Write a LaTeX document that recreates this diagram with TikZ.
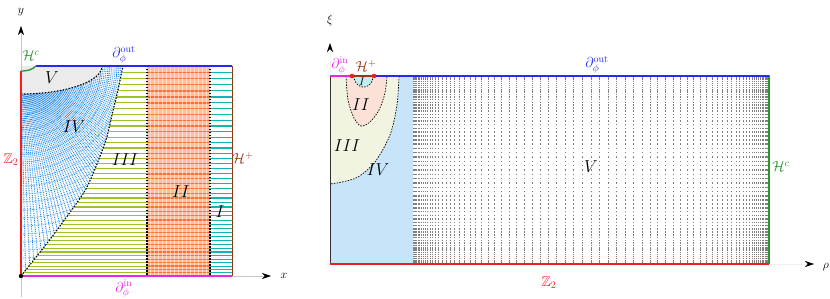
\documentclass[tikz,border=0pt]{standalone}
\usepackage{amssymb}
\usetikzlibrary{arrows.meta}
\definecolor{cIn}{RGB}{230,40,230}
\definecolor{cOut}{RGB}{40,40,240}
\definecolor{cZ}{RGB}{240,30,30}
\definecolor{cHp}{RGB}{150,55,25}
\definecolor{cHc}{RGB}{40,150,40}
\definecolor{cIV}{RGB}{30,135,235}
\definecolor{cIII}{RGB}{155,195,40}
\definecolor{cII}{RGB}{255,110,45}
\definecolor{cIIbg}{RGB}{255,190,160}
\definecolor{cI}{RGB}{20,180,180}
\definecolor{fIV}{RGB}{200,228,248}
\definecolor{fIII}{RGB}{240,244,225}
\definecolor{fII}{RGB}{252,226,214}
\definecolor{fI}{RGB}{195,238,238}
\begin{document}
\begin{tikzpicture}[x=1pt,y=-1pt,
  edgelab/.style={font=\fontsize{14}{16}\selectfont, inner sep=0pt},
  reglab/.style={font=\fontsize{19}{21}\selectfont, inner sep=0pt},
  reglabr/.style={font=\fontsize{17}{19}\selectfont, inner sep=0pt},
  smallreg/.style={font=\fontsize{11}{13}\selectfont, inner sep=0pt},
  axlab/.style={font=\fontsize{12}{14}\selectfont, inner sep=0pt},
  bnd/.style={black, dash pattern=on 1.5pt off 1.5pt, line width=1.1pt},
  bndthin/.style={black, dash pattern=on 1.5pt off 1.3pt, line width=0.7pt},
  axline/.style={gray!45, line width=0.6pt, -{Stealth[length=9pt,width=6pt,color=black]}},
  raydot/.style={cIV, line width=0.9pt, dash pattern=on 0.9pt off 0.9pt},
  arcdot/.style={cIV!80, line width=0.7pt, dash pattern=on 0.8pt off 1pt},
  dotv/.style={black!50, line width=0.75pt},
  border/.style={line width=1.3pt},
]
\useasboundingbox (0,0) rectangle (830,299);

% ================= LEFT DIAGRAM =================
\coordinate (LO) at (21,276);
\coordinate (LTopY) at (21,26);
\coordinate (LRightX) at (271,276);
\coordinate (LBelow) at (21,297);

% region V fill
\fill[gray!16] (21,66) -- (21,94) -- plot[domain=90:0,samples=40] ({21+81*cos(\x)},{66+28*sin(\x)}) -- cycle;

% region II fill
\fill[cIIbg] (147,66) rectangle (210,276);

% region IV mesh
\begin{scope}
  \clip (21,94) -- plot[smooth] coordinates {(21,276) (48,242) (68,215) (87,187) (105,143) (112,115) (118,90) (123,66)}
        -- (102,66) -- plot[domain=0:90,samples=40] ({21+81*cos(\x)},{66+28*sin(\x)}) -- cycle;
  \foreach \a in {0,1.25,...,90}
    \draw[raydot] (21,66) -- ++({320*cos(\a)},{320*sin(\a)});
  \foreach \r in {32,40,...,240}
    \draw[arcdot] plot[domain=0:90,samples=45] ({21+\r*cos(\x)},{66+\r*sin(\x)});
\end{scope}

% region III green lines
\begin{scope}
  \clip plot[smooth] coordinates {(21,276) (48,242) (68,215) (87,187) (105,143) (112,115) (118,90) (123,66)}
        -- (147,66) -- (147,276) -- cycle;
  \foreach \k in {0,...,44}{
    \pgfmathsetmacro\yy{276-210*((2/3)*(\k/44)+(1/3)*(\k/44)^2)}
    \draw[cIII, line width=1.2pt] (21,\yy) -- (147,\yy);
  }
\end{scope}

% region II and I lines
\foreach \k in {0,...,44}{
  \pgfmathsetmacro\yy{276-210*((2/3)*(\k/44)+(1/3)*(\k/44)^2)}
  \draw[cII, line width=1.3pt] (147,\yy) -- (210,\yy);
  \draw[cI, line width=1.2pt] (210,\yy) -- (232,\yy);
}
\foreach \xv in {150,154,...,208}
  \draw[white, opacity=0.45, line width=0.5pt] (\xv,66) -- (\xv,276);

% dashed boundaries
\draw[bnd] plot[smooth] coordinates {(21,276) (48,242) (68,215) (87,187) (105,143) (112,115) (118,90) (123,66)};
\draw[bnd] plot[domain=90:0,samples=40] ({21+81*cos(\x)},{66+28*sin(\x)});
\draw[bnd] (147,66) -- (147,276);
\draw[bnd] (210,66) -- (210,276);

% axes
\draw[axline] (LBelow) -- (LTopY);
\draw[axline] (LO) -- (LRightX);

% borders
\draw[border, cZ] (21,71) -- (LO);
\draw[border, cIn] (LO) -- (232,276);
\draw[border, cHp, line width=1pt] (232,276) -- (232,66);
\draw[border, cOut] (36,66) -- (232,66);
\draw[border, cHc] (21,71) .. controls (29,71) and (33,69) .. (36,66);
\fill[black] (LO) circle (2.2);

% labels
\node[axlab] (ly) at (21,12) {$y$};
\node[axlab] (lx) at (284,276) {$x$};
\node[edgelab, text=cHc] (lHc) at (31,56) {$\mathcal{H}^c$};
\node[edgelab, text=cOut] (lOut) at (124,55) {$\partial_\phi^{\mathrm{out}}$};
\node[edgelab, text=cZ] (lZ) at (11,160) {$\mathbb{Z}_2$};
\node[edgelab, text=cHp] (lHp) at (243,158) {$\mathcal{H}^+$};
\node[edgelab, text=cIn] (lIn) at (124,289) {$\partial_\phi^{\mathrm{in}}$};
\node[reglab] (lV) at (52,78) {$V$};
\node[reglab] (lIVl) at (74,127) {$IV$};
\node[reglab] (lIIIl) at (125,160) {$III$};
\node[reglab] (lIIl) at (181,192) {$II$};
\node[reglab] (lIl) at (220,212) {$I$};

% ================= RIGHT DIAGRAM =================
\coordinate (RO) at (330,264);
\coordinate (RXi) at (330,43);
\coordinate (RRho) at (814,264);

\fill[fIV] (330,76) rectangle (413,264);
\fill[fIII] (330,76) -- plot[smooth] coordinates {(399,76) (397,105) (390,135) (375,162) (358,177) (342,182) (330,184)} -- cycle;
\fill[fII] plot[smooth] coordinates {(346,76) (348,100) (354,118) (361,126) (370,122) (379,110) (385,93) (387,76)} -- cycle;
\fill[fI] plot[domain=180:0,samples=30] ({363.5+9.5*cos(\x)},{76+11*sin(\x)}) -- cycle;

\draw[bndthin] plot[smooth] coordinates {(399,76) (397,105) (390,135) (375,162) (358,177) (342,182) (330,184)};
\draw[bndthin] plot[smooth] coordinates {(346,76) (348,100) (354,118) (361,126) (370,122) (379,110) (385,93) (387,76)};
\draw[bndthin] plot[domain=180:0,samples=30] ({363.5+9.5*cos(\x)},{76+11*sin(\x)});

% region V dot grid
\foreach \i in {0,...,72}{
  \pgfmathsetmacro\xx{413+356*(\i/72-0.75*sin(5*\i)/(2*pi))}
  \draw[dotv] \foreach \j in {0,...,60}{ (\xx,{76+188*(\j/60-0.4*sin(6*\j)/(2*pi))-0.7}) -- ++(0,1.4) };
}

% axes (arrow heads)
\draw[axline, gray!12] (330,76) -- (RXi);
\draw[axline, gray!12] (769,264) -- (RRho);

% borders
\draw[line width=1pt, black!80] (330,76) -- (RO);
\draw[border, cZ] (RO) -- (769,264);
\draw[border, cHc] (769,264) -- (769,76);
\draw[border, cOut] (374,76) -- (769,76);
\draw[border, cHp] (352,76) -- (374,76);
\draw[border, cIn] (330,76) -- (352,76);
\fill[cZ] (352,76) circle (2.3);
\fill[cZ] (374,76) circle (2.3);

% labels
\node[axlab] (lxi) at (330,21) {$\xi$};
\node[axlab] (lrho) at (826,267) {$\rho$};
\node[edgelab, text=cIn] (rIn) at (340,66) {$\partial_\phi^{\mathrm{in}}$};
\node[edgelab, text=cHp] (rHp) at (366,66) {$\mathcal{H}^+$};
\node[edgelab, text=cOut] (rOut) at (597,65) {$\partial_\phi^{\mathrm{out}}$};
\node[edgelab, text=cZ] (rZ) at (549,283) {$\mathbb{Z}_2$};
\node[edgelab, text=cHc] (rHc) at (781,167) {$\mathcal{H}^c$};
\node[smallreg] (rI) at (362,82) {$I$};
\node[reglabr] (rII) at (361,105) {$II$};
\node[reglabr] (rIII) at (347,146) {$III$};
\node[reglabr] (rIV) at (378,170) {$IV$};
\node[reglab] (rV) at (591,167) {$V$};
\end{tikzpicture}
\end{document}
